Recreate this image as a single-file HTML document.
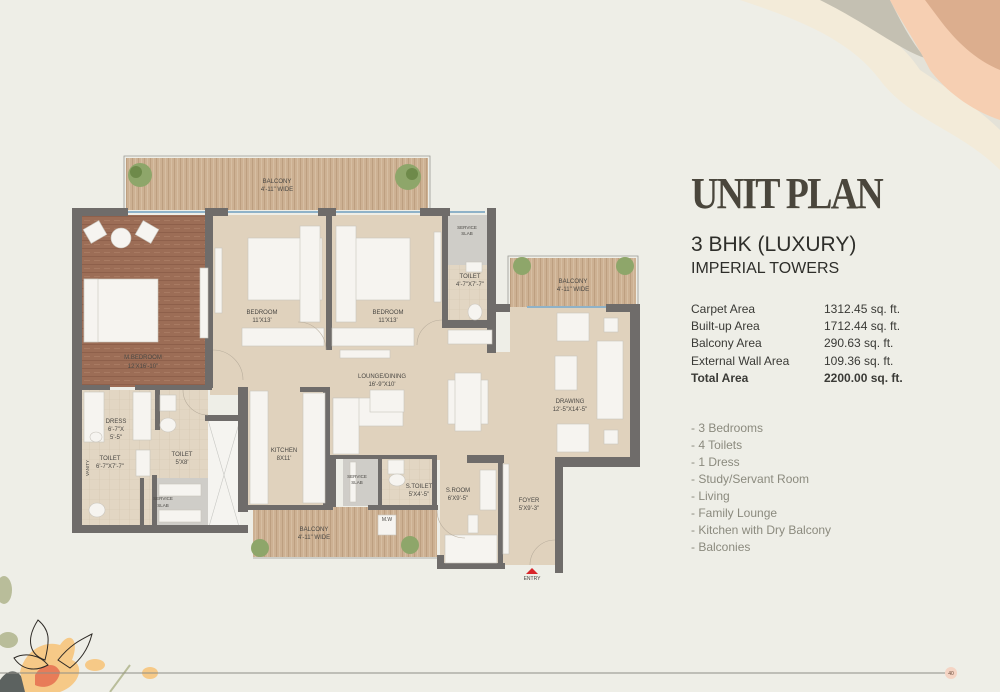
<!DOCTYPE html>
<html><head><meta charset="utf-8"><style>
html,body{margin:0;padding:0;background:#eeeee7;}
body{width:1000px;height:692px;position:relative;overflow:hidden;font-family:"Liberation Sans",sans-serif;}
.t{position:absolute;left:691px;color:#3a3a36;white-space:nowrap;width:300px;}
.t span{position:absolute;left:133px;}
.t div{position:relative;}
</style></head><body>
<svg width="1000" height="692" style="position:absolute;left:0;top:0" xmlns="http://www.w3.org/2000/svg">
<defs>
<pattern id="wood" width="6" height="10" patternUnits="userSpaceOnUse">
<rect width="6" height="10" fill="#cdb193"/><rect x="0" width="1" height="10" fill="#bd9f80"/><rect x="3" width="1" height="10" fill="#d6bea2"/>
</pattern>
<pattern id="brown" width="10" height="8" patternUnits="userSpaceOnUse">
<rect width="10" height="8" fill="#9c6d56"/><rect y="0" width="10" height="1" fill="#8e604b"/><rect x="4" y="4" width="6" height="1" fill="#a87a62"/>
</pattern>
<pattern id="tile" width="10" height="10" patternUnits="userSpaceOnUse">
<rect width="10" height="10" fill="#e2d6c3"/><path d="M10 0V10H0" fill="none" stroke="#d2c4ae" stroke-width="0.6"/>
</pattern>
</defs>
<!-- corner decor -->
<path d="M740 0 C800 20 850 40 880 80 C910 120 960 130 1000 170 L1000 0Z" fill="#f3ebd9"/>
<path d="M820 0 C870 20 900 40 920 70 C950 90 980 110 1000 130 L1000 0Z" fill="#e4e2d8"/>
<path d="M820 0 L890 0 C900 20 910 40 925 58 C900 50 870 25 820 0Z" fill="#c4c0b2"/>
<path d="M890 0 L1000 0 L1000 120 C970 110 945 90 930 70 C915 40 900 20 890 0Z" fill="#f6cfb2"/>
<path d="M925 0 L1000 0 L1000 70 C975 60 955 40 940 20Z" fill="#dcae8e"/>
<!-- bottom-left flowers -->
<ellipse cx="4" cy="590" rx="8" ry="14" fill="#b9bd9a"/>
<ellipse cx="8" cy="640" rx="10" ry="8" fill="#b9bd9a"/>
<path d="M0 680 C10 665 25 670 25 692 L0 692Z" fill="#5c6260"/>
<path d="M20 672 C25 650 45 640 60 645 C70 630 80 640 72 660 C85 665 80 685 60 692 L25 692Z" fill="#f6c987"/>
<path d="M35 675 C40 665 55 660 60 672 C58 685 45 690 35 685Z" fill="#e87c58"/>
<path d="M38 620 C25 640 30 655 45 660 C50 640 50 630 38 620Z M58 660 C70 645 80 640 92 634 C88 650 80 660 70 668Z M14 658 C25 652 40 655 48 665 C35 672 22 670 14 658Z" fill="none" stroke="#2e2a26" stroke-width="1"/>
<ellipse cx="95" cy="665" rx="10" ry="6" fill="#f6c987"/>
<ellipse cx="150" cy="673" rx="8" ry="6" fill="#f6c987"/>
<line x1="110" y1="692" x2="130" y2="665" stroke="#b9bd9a" stroke-width="2"/>
<!-- bottom rule -->
<line x1="0" y1="673" x2="945" y2="673" stroke="#8f8f87" stroke-width="1"/>
<circle cx="951" cy="673" r="6" fill="#f4d4c4"/>
<text x="951" y="675" font-size="5" text-anchor="middle" fill="#6a4a3a" font-family="Liberation Sans">40</text>

<!-- ===== PLAN ===== -->
<rect x="126" y="158" width="302" height="52" fill="url(#wood)"/>
<path d="M124 210V156H430V210" fill="none" stroke="#9a9a94" stroke-width="0.8"/>
<rect x="510" y="258" width="126" height="49" fill="url(#wood)"/>
<path d="M508 307V256H638V307" fill="none" stroke="#9a9a94" stroke-width="0.8"/>
<rect x="253" y="507" width="184" height="50" fill="url(#wood)"/>
<path d="M253 558H437" stroke="#9a9a94" stroke-width="0.8"/>
<path d="M210 215H495V352H510V307H632V460H557V565H440V460H380V455H323V510H248V395H210Z" fill="#e0d2bd"/>
<rect x="80" y="215" width="132" height="172" fill="url(#brown)"/>
<rect x="80" y="390" width="128" height="138" fill="url(#tile)"/>
<rect x="208" y="420" width="32" height="110" fill="#f5f4f0"/>
<path d="M208 420L240 530M240 420L208 530" stroke="#c8c8c4" stroke-width="0.6"/>
<rect x="156" y="478" width="52" height="50" fill="#cfcdc8"/>
<rect x="447" y="215" width="40" height="50" fill="#cfcdc8"/>
<rect x="447" y="265" width="40" height="60" fill="url(#tile)"/>
<rect x="343" y="455" width="35" height="51" fill="#cfcdc8"/>
<rect x="380" y="457" width="55" height="48" fill="url(#tile)"/>
<g stroke="#8fb2c8" stroke-width="2">
<line x1="128" y1="212" x2="205" y2="212"/><line x1="228" y1="212" x2="320" y2="212"/><line x1="336" y1="212" x2="420" y2="212"/>
<line x1="448" y1="212" x2="485" y2="212"/><line x1="527" y1="307" x2="608" y2="307"/>
<line x1="122" y1="532" x2="150" y2="532"/><line x1="210" y1="532" x2="240" y2="532"/>
</g>
<g fill="#6f6c6a">
<rect x="72" y="208" width="56" height="8"/><rect x="72" y="208" width="10" height="325"/>
<rect x="72" y="525" width="176" height="8"/>
<rect x="205" y="208" width="23" height="8"/><rect x="205" y="208" width="8" height="180"/>
<rect x="318" y="208" width="18" height="8"/><rect x="326" y="208" width="6" height="142"/>
<rect x="420" y="208" width="30" height="8"/><rect x="442" y="208" width="6" height="120"/>
<rect x="487" y="208" width="9" height="145"/><rect x="442" y="320" width="54" height="8"/>
<rect x="496" y="304" width="14" height="8"/>
<rect x="606" y="304" width="34" height="8"/><rect x="630" y="304" width="10" height="163"/>
<rect x="555" y="457" width="85" height="10"/><rect x="555" y="457" width="8" height="116"/>
<rect x="80" y="385" width="30" height="5"/><rect x="135" y="385" width="77" height="5"/>
<rect x="155" y="390" width="5" height="40"/>
<rect x="205" y="415" width="38" height="6"/><rect x="238" y="387" width="10" height="125"/>
<rect x="300" y="387" width="30" height="5"/><rect x="323" y="387" width="7" height="120"/>
<rect x="323" y="455" width="13" height="52"/><rect x="336" y="455" width="100" height="4"/>
<rect x="432" y="455" width="5" height="52"/><rect x="378" y="455" width="4" height="52"/>
<rect x="248" y="505" width="85" height="5"/><rect x="368" y="505" width="70" height="5"/>
<rect x="437" y="555" width="7" height="13"/><rect x="437" y="563" width="68" height="6"/>
<rect x="467" y="455" width="37" height="8"/><rect x="498" y="455" width="5" height="110"/>
<rect x="140" y="478" width="4" height="50"/><rect x="152" y="475" width="5" height="53"/>
</g>
<g fill="#f6f4f0" stroke="#c9c5bd" stroke-width="0.6">
<rect x="86" y="224" width="18" height="16" transform="rotate(-30 95 232)"/>
<circle cx="121" cy="238" r="10"/>
<rect x="138" y="224" width="18" height="16" transform="rotate(30 147 232)"/>
<rect x="84" y="279" width="74" height="63"/><rect x="84" y="279" width="14" height="63"/>
<rect x="200" y="268" width="8" height="70"/>
<rect x="248" y="238" width="74" height="62"/><rect x="300" y="226" width="20" height="96"/>
<rect x="336" y="238" width="74" height="62"/><rect x="336" y="226" width="20" height="96"/>
<rect x="215" y="248" width="7" height="65"/><rect x="434" y="232" width="7" height="70"/>
<rect x="242" y="328" width="82" height="18"/><rect x="332" y="328" width="82" height="18"/>
<rect x="340" y="350" width="50" height="8"/>
<rect x="84" y="392" width="20" height="50"/><rect x="133" y="392" width="18" height="48"/>
<rect x="160" y="395" width="16" height="16"/><ellipse cx="168" cy="425" rx="8" ry="7"/>
<rect x="136" y="450" width="14" height="26"/>
<ellipse cx="96" cy="437" rx="6" ry="5"/><ellipse cx="97" cy="510" rx="8" ry="7"/>
<rect x="250" y="391" width="18" height="113"/>
<rect x="303" y="393" width="22" height="110"/>
<rect x="333" y="398" width="70" height="28"/><rect x="333" y="398" width="26" height="56"/>
<rect x="370" y="390" width="34" height="22"/>
<rect x="448" y="380" width="40" height="44"/><rect x="455" y="373" width="26" height="58"/>
<rect x="557" y="313" width="32" height="28"/><rect x="604" y="318" width="14" height="14"/>
<rect x="597" y="341" width="26" height="78"/><rect x="555" y="356" width="22" height="34"/>
<rect x="557" y="424" width="32" height="28"/><rect x="604" y="430" width="14" height="14"/>
<rect x="466" y="262" width="16" height="10"/><ellipse cx="475" cy="312" rx="7" ry="8"/>
<rect x="448" y="330" width="44" height="14"/>
<rect x="480" y="470" width="16" height="40"/><rect x="445" y="535" width="52" height="28"/>
<rect x="468" y="515" width="10" height="18"/>
<rect x="388" y="460" width="16" height="14"/><ellipse cx="397" cy="480" rx="8" ry="6"/>
<rect x="378" y="515" width="18" height="20"/>
<rect x="350" y="462" width="6" height="40"/>
<rect x="503" y="464" width="6" height="90"/>
<rect x="159" y="484" width="42" height="12"/><rect x="159" y="510" width="42" height="12"/>
</g>
<g fill="#8ea66a"><circle cx="140" cy="175" r="12"/><circle cx="408" cy="177" r="13"/>
<circle cx="522" cy="266" r="9"/><circle cx="625" cy="266" r="9"/>
<circle cx="260" cy="548" r="9"/><circle cx="410" cy="545" r="9"/></g>
<g fill="#6e8a4a"><circle cx="136" cy="172" r="6"/><circle cx="412" cy="174" r="6"/></g>
<g fill="none" stroke="#b8ad9c" stroke-width="0.6">
<path d="M213 350A30 30 0 0 1 243 380"/><path d="M326 350A28 28 0 0 0 298 322"/>
<path d="M442 320A25 25 0 0 0 417 345"/><path d="M183 390A25 25 0 0 0 208 415"/>
<path d="M530 565A25 25 0 0 1 555 540"/><path d="M437 510A28 28 0 0 0 465 538"/>
</g>
<g font-family="Liberation Sans" font-size="6" fill="#4a4844" text-anchor="middle">
<text x="277" y="183">BALCONY</text><text x="277" y="191">4'-11" WIDE</text>
<text x="143" y="359">M.BEDROOM</text><text x="143" y="368">12'X16'-10"</text>
<text x="262" y="314">BEDROOM</text><text x="262" y="322">11'X13'</text>
<text x="388" y="314">BEDROOM</text><text x="388" y="322">11'X13'</text>
<text x="467" y="229" font-size="4.5">SERVICE</text><text x="467" y="235" font-size="4.5">SLAB</text>
<text x="470" y="278">TOILET</text><text x="470" y="286">4'-7"X7'-7"</text>
<text x="573" y="283">BALCONY</text><text x="573" y="291">4'-11" WIDE</text>
<text x="382" y="378">LOUNGE/DINING</text><text x="382" y="386">16'-9"X10'</text>
<text x="570" y="403">DRAWING</text><text x="570" y="411">12'-5"X14'-5"</text>
<text x="116" y="423">DRESS</text><text x="116" y="431">6'-7"X</text><text x="116" y="439">5'-5"</text>
<text x="110" y="460">TOILET</text><text x="110" y="468">6'-7"X7'-7"</text>
<text x="182" y="456">TOILET</text><text x="182" y="464">5'X8'</text>
<text x="163" y="500" font-size="4.5">SERVICE</text><text x="163" y="507" font-size="4.5">SLAB</text>
<text x="284" y="452">KITCHEN</text><text x="284" y="460">8X11'</text>
<text x="357" y="478" font-size="4.5">SERVICE</text><text x="357" y="484" font-size="4.5">SLAB</text>
<text x="419" y="488">S.TOILET</text><text x="419" y="496">5'X4'-5"</text>
<text x="458" y="492">S.ROOM</text><text x="458" y="500">6'X9'-5"</text>
<text x="529" y="502">FOYER</text><text x="529" y="510">5'X9'-3"</text>
<text x="314" y="531">BALCONY</text><text x="314" y="539">4'-11" WIDE</text>
<text x="387" y="521" font-size="5">M.W</text>
<text x="532" y="580" font-size="5">ENTRY</text>
<text x="89" y="468" font-size="4.5" transform="rotate(-90 89 468)">VANITY</text>
</g>
<path d="M526 574L532 568L538 574Z" fill="#d8262b"/>
</svg>

<div class="t" style="top:168px;font-family:'Liberation Serif',serif;font-size:44px;font-weight:bold;color:#4a463c;letter-spacing:-2px;transform:scaleX(0.86);transform-origin:left;">UNIT PLAN</div>
<div class="t" style="top:233px;font-size:21px;color:#2e2e2a;">3 BHK (LUXURY)</div>
<div class="t" style="top:260px;font-size:16px;color:#2e2e2a;">IMPERIAL TOWERS</div>
<div class="t" style="top:301px;font-size:12px;line-height:17.2px;">
<div>Carpet Area<span>1312.45 sq. ft.</span></div>
<div>Built-up Area<span>1712.44 sq. ft.</span></div>
<div>Balcony Area<span>290.63 sq. ft.</span></div>
<div>External Wall Area<span>109.36 sq. ft.</span></div>
<div style="font-weight:bold">Total Area<span>2200.00 sq. ft.</span></div>
</div>
<div class="t" style="top:420px;font-size:12px;line-height:17px;color:#8b8a7e;">
<div>- 3 Bedrooms</div><div>- 4 Toilets</div><div>- 1 Dress</div><div>- Study/Servant Room</div><div>- Living</div><div>- Family Lounge</div><div>- Kitchen with Dry Balcony</div><div>- Balconies</div>
</div>
</body></html>
